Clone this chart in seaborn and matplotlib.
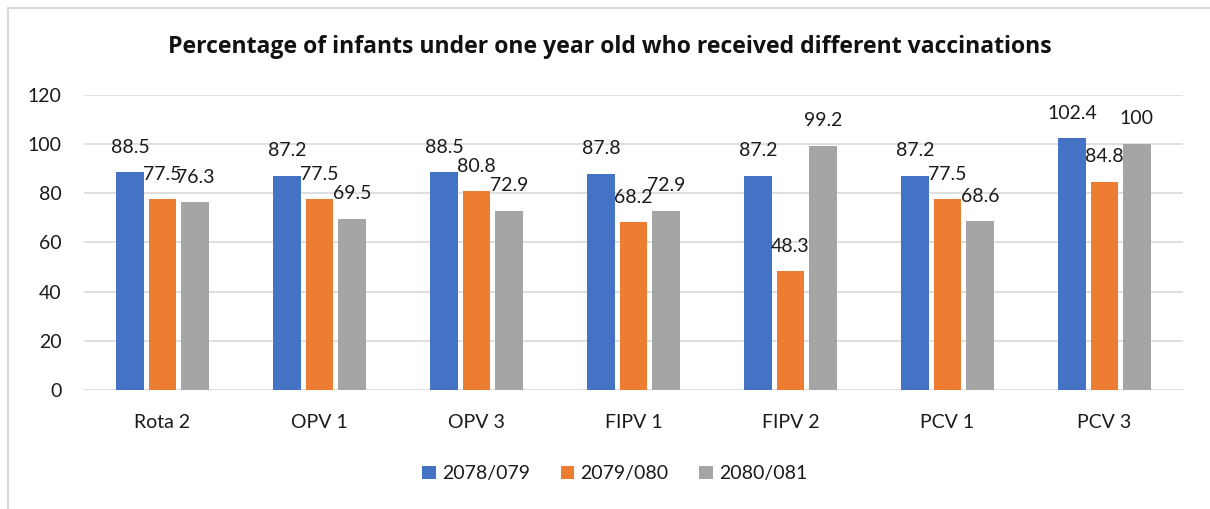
import pandas as pd
import matplotlib.pyplot as plt
import seaborn as sns
from matplotlib.lines import Line2D
from matplotlib.patches import Patch

# data
vaccines = ['Rota 2', 'OPV 1', 'OPV 3', 'FIPV 1', 'FIPV 2', 'PCV 1', 'PCV 3']
years = ['2078/079', '2079/080', '2080/081']
y2078 = [88.5, 87.2, 88.5, 87.8, 87.2, 87.2, 102.4]
y2079 = [77.5, 77.5, 80.8, 68.2, 48.3, 77.5, 84.8]
y2080 = [76.3, 69.5, 72.9, 72.9, 99.2, 68.6, 100]
colors = ['#4472C4', '#ED7D31', '#A5A5A5']

rows = []
for year, vals in zip(years, [y2078, y2079, y2080]):
    for v, val in zip(vaccines, vals):
        rows.append({'Vaccine': v, 'Year': year, 'Value': val})
df = pd.DataFrame(rows)

sns.set_style('white')
plt.rcParams['font.family'] = ['Lato', 'DejaVu Sans']

fig = plt.figure(figsize=(12.1, 5.09), dpi=100)
ax = fig.add_axes([0.0694, 0.2338, 0.9083, 0.5796])

sns.barplot(data=df, x='Vaccine', y='Value', hue='Year', order=vaccines,
            hue_order=years, palette=colors, width=0.62, gap=0.16,
            saturation=1, linewidth=0, legend=False, ax=ax)

# data labels above each bar (overlap in Rota 2 is as in the original)
for cont, vals in zip(ax.containers, [y2078, y2079, y2080]):
    ax.bar_label(cont, labels=['{:g}'.format(v) for v in vals],
                 padding=12, fontsize=14, color='#1a1a1a')

ax.set_ylim(0, 120)
ax.set_yticks(range(0, 121, 20))
ax.set_xlim(-0.5, 6.5)
ax.set_xlabel('')
ax.set_ylabel('')
ax.yaxis.grid(True, color='#D9D9D9', linewidth=1.2)
ax.set_axisbelow(True)
for s in ax.spines.values():
    s.set_visible(False)
ax.tick_params(axis='y', length=0, pad=16, labelsize=14, labelcolor='#1a1a1a')
ax.tick_params(axis='x', length=0, pad=17, labelsize=14, labelcolor='#1a1a1a')

fig.text(0.504, 0.907, 'Percentage of infants under one year old who received different vaccinations',
         ha='center', va='center', fontsize=16.6, fontweight='bold', color='#111111',
         family=['Open Sans', 'DejaVu Sans'])

handles = [Patch(facecolor=c, edgecolor='none') for c in colors]
fig.legend(handles, years, loc='center', bbox_to_anchor=(0.508, 0.069), ncol=3,
           frameon=False, fontsize=14, handlelength=0.7, handleheight=0.7,
           handletextpad=0.3, columnspacing=1.6, labelcolor='#1a1a1a')

# light chart border (left and top)
fig.add_artist(Line2D([8 / 1210, 8 / 1210], [0, 1 - 8 / 509], color='#D9D9D9', linewidth=1.5))
fig.add_artist(Line2D([8 / 1210, 1], [1 - 8 / 509, 1 - 8 / 509], color='#D9D9D9', linewidth=1.5))

fig.savefig('out.png', dpi=100)
